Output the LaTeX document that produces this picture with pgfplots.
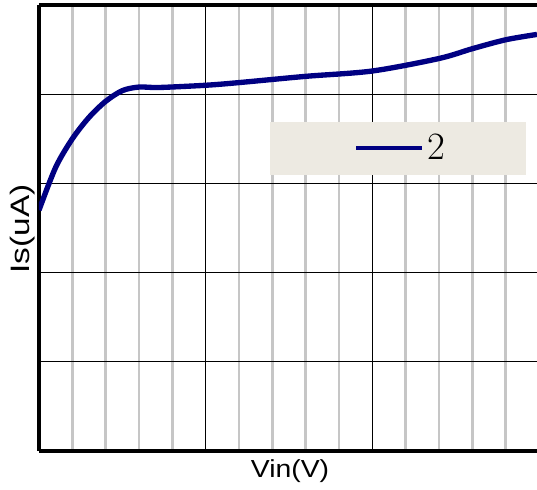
\documentclass[border=0pt]{standalone}
\usepackage{fontspec}
\usepackage{pgfplots}
\pgfplotsset{compat=1.18}
\newfontfamily\labA[FakeStretch=1.15]{Liberation Sans}
\newfontfamily\labB[FakeStretch=1.25]{Liberation Sans}
\definecolor{curve}{RGB}{0,0,130}
\definecolor{legbg}{RGB}{237,234,226}
\definecolor{mgrid}{RGB}{198,198,198}
\begin{document}
\begin{tikzpicture}
\begin{axis}[
  scale only axis,
  width=373.5pt, height=334.5pt,
  xmin=0, xmax=14.94, ymin=0, ymax=5,
  axis x line*=box, axis y line*=left,
  axis line style={black, line width=3pt},
  xtick={0,5,10,15}, minor xtick={1,2,3,4,6,7,8,9,11,12,13,14},
  ytick={0,1,2,3,4,5},
  xticklabels={}, yticklabels={},
  major tick length=0pt, minor tick length=0pt,
  xmajorgrids, xminorgrids, ymajorgrids,
  major grid style={black, line width=0.9pt},
  minor grid style={mgrid, line width=1.8pt},
  xlabel={Vin(V)}, ylabel={Is(uA)},
  xlabel style={at={(rel axis cs:0.5,0)}, anchor=base, xshift=1.5pt, yshift=-20.25pt, font=\labA\fontsize{18.5}{20}\selectfont},
  ylabel style={at={(rel axis cs:0,0.498)}, anchor=base, yshift=6.75pt, font=\labB\fontsize{20}{22}\selectfont},
  legend style={at={(rel axis cs:0.72,0.679)}, anchor=center, fill=legbg, draw=none,
    inner xsep=58.5pt, inner ysep=7.5pt, font=\fontsize{29}{31}\selectfont},
  legend image code/.code={\path (0pt,0pt); \draw[#1, line width=3.2pt] (4.5pt,0pt) -- (54pt,0pt);},
]
\addplot[curve, line width=4pt, smooth] coordinates {
(0,2.70) (0.5,3.18) (1.0,3.50) (1.5,3.74) (2.0,3.92) (2.5,4.04) (3.0,4.08)
(3.6,4.075) (5.0,4.10) (6.0,4.13) (8.0,4.20) (10.0,4.26) (12.0,4.40)
(13.0,4.51) (14.0,4.61) (14.94,4.67)
};
\addlegendentry{2}
\coordinate (sw) at (rel axis cs:0,0);
\coordinate (ne) at (rel axis cs:1,1);
\end{axis}
\pgfresetboundingbox
\path ([shift={(-29.25pt,-29.25pt)}]sw) rectangle ([shift={(0pt,3.75pt)}]ne);
\end{tikzpicture}
\end{document}
